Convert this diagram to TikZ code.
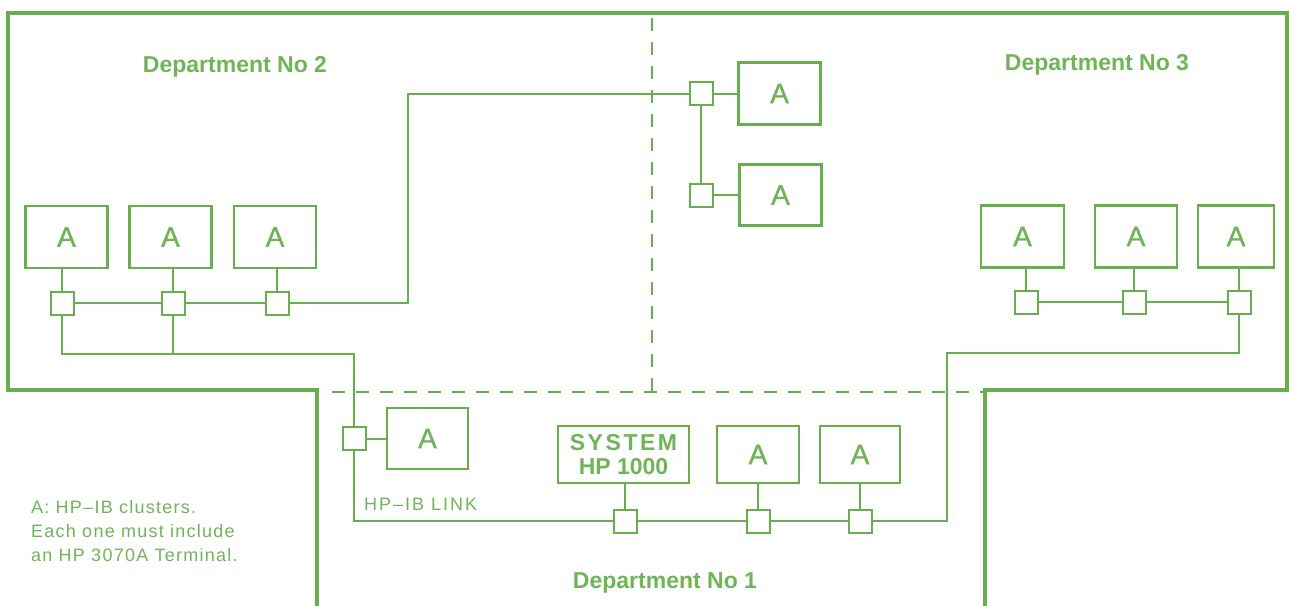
\documentclass[tikz,border=0pt]{standalone}
\usepackage{fontspec}
\setmainfont{Liberation Sans}
\newfontfamily\trackfont[LetterSpace=7]{Liberation Sans}
\newfontfamily\widefont[LetterSpace=11]{Liberation Sans}
\newfontfamily\medfont[FakeBold=1.2]{Liberation Sans}
\usetikzlibrary{calc}
\definecolor{hpgreen}{RGB}{104,174,78}
\definecolor{hptext}{RGB}{112,180,88}
\begin{document}
\begin{tikzpicture}[x=1pt,y=-1pt,
  wire/.style={draw=hpgreen,line width=2pt},
  cluster/.style={draw=hpgreen,line width=2.2pt,minimum width=82pt,minimum height=62pt,inner sep=0pt,font=\medfont\fontsize{28}{28}\selectfont,text=hptext},
  port/.style={draw=hpgreen,line width=2pt,minimum size=23pt,inner sep=0pt},
  dept/.style={font=\bfseries\fontsize{23}{23}\selectfont,text=hptext},
  border/.style={draw=hpgreen,line width=3.6pt},
  divider/.style={draw=hpgreen,line width=1.8pt,dash pattern=on 13pt off 11pt}]
\useasboundingbox (0,0) rectangle (1289,605);

% outer outline
\draw[border] (317,610) -- (317,390) -- (8,390) -- (8,13) -- (1287,13) -- (1287,390) -- (985,390) -- (985,610);
% department dividers
\draw[divider] (652,18) -- (652,392);
\draw[divider] (332,392) -- (985,392);

% department labels
\node[dept] (d2) at (235,67) {Department No 2};
\node[dept] (d3) at (1097,65) {Department No 3};
\node[dept] (d1) at (665,583) {Department No 1};

% Department 2
\node[cluster] (a21) at (66.5,237) {A};
\node[cluster] (a22) at (170.5,237) {A};
\node[cluster] (a23) at (275,237) {A};
\node[port] (p21) at (62,303) {};
\node[port] (p22) at (173,303) {};
\node[port] (p23) at (277,303) {};

% Department 3 (upper)
\node[cluster] (a31) at (779.5,93.5) {A};
\node[cluster,minimum height=61pt] (a32) at (780.5,195) {A};
\node[port] (p31) at (701,93.5) {};
\node[port] (p32) at (701,195) {};

% Department 3 (right)
\node[cluster,minimum width=83pt] (a33) at (1022.5,236.5) {A};
\node[cluster] (a34) at (1136,236.5) {A};
\node[cluster,minimum width=76pt] (a35) at (1236,236.5) {A};
\node[port] (p33) at (1026,302) {};
\node[port] (p34) at (1134,302) {};
\node[port] (p35) at (1239,302) {};

% Department 1
\node[port] (p11) at (354,438.5) {};
\node[cluster,minimum width=81pt,minimum height=61pt] (a11) at (427.5,438.5) {A};
\node[cluster,minimum width=131pt,minimum height=57pt,font=\bfseries\fontsize{23}{24}\selectfont,align=center] (sys) at (623.5,454.5) {{\widefont\bfseries SYSTEM}\\HP 1000};
\node[cluster,minimum width=82pt,minimum height=57pt] (a12) at (758,454.5) {A};
\node[cluster,minimum width=80pt,minimum height=57pt] (a13) at (860,454.5) {A};
\node[port] (p12) at (625,521) {};
\node[port] (p13) at (758,521) {};
\node[port] (p14) at (860,521) {};

% bend points
\coordinate (k1) at (408,93.5);
\coordinate (k2) at (354,354);
\coordinate (k3) at (947,353);

% wiring
\draw[wire] (p21) -- (p21 |- a21.south);
\draw[wire] (p22) -- (p22 |- a22.south);
\draw[wire] (p23) -- (p23 |- a23.south);
\draw[wire] (p21) -- (p22) -- (p23);
\draw[wire] (p23) -| (k1) -- (p31);
\draw[wire] (p31) -- (a31);
\draw[wire] (p31) -- (p32);
\draw[wire] (p32) -- (a32);
\draw[wire] (p21) |- (k2) -- (p11);
\draw[wire] (p22) -- (p22 |- k2);
\draw[wire] (p11) -- (a11);
\draw[wire] (p11) |- (p12);
\draw[wire] (p12) -- (p13) -- (p14);
\draw[wire] (p12) -- (p12 |- sys.south);
\draw[wire] (p13) -- (p13 |- a12.south);
\draw[wire] (p14) -- (p14 |- a13.south);
\draw[wire] (p14) -| (k3) -| (p35);
\draw[wire] (p33) -- (p34) -- (p35);
\draw[wire] (p33) -- (p33 |- a33.south);
\draw[wire] (p34) -- (p34 |- a34.south);
\draw[wire] (p35) -- (p35 |- a35.south);

% labels
\node[anchor=base west,inner sep=0pt,text=hptext,font=\fontsize{18}{18}\selectfont\widefont] (link) at (364,510) {HP–IB LINK};
\node[anchor=north west,inner sep=0pt,align=left,text=hptext,font=\fontsize{18}{24}\selectfont\trackfont] (legend) at (31,500) {A: HP–IB clusters.\\Each one must include\\an HP 3070A Terminal.};
\end{tikzpicture}
\end{document}
